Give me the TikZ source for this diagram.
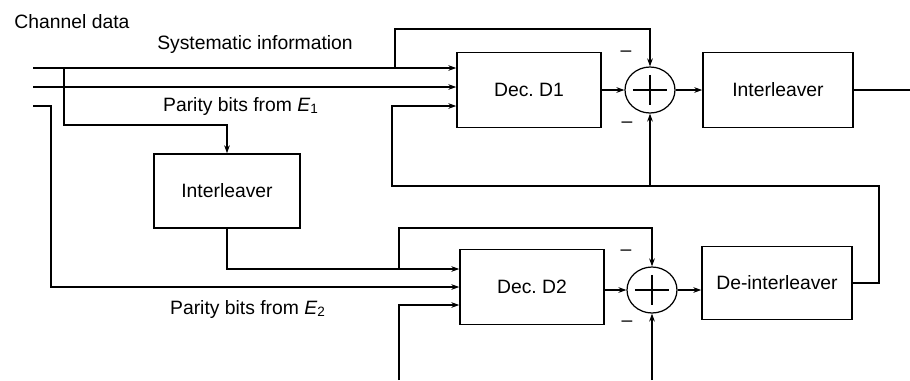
\documentclass[tikz,border=0pt]{standalone}
\usepackage{fontspec}
\setmainfont{Liberation Sans}
\usetikzlibrary{shapes.geometric,arrows.meta}
\begin{document}
\begin{tikzpicture}[x=0.02cm,y=-0.02cm,>={Stealth[length=4.5pt,width=3.2pt]},line width=0.7pt,
  font=\fontsize{11}{13}\selectfont,
  blk/.style={draw,line width=0.9pt,minimum width=2.88cm,minimum height=1.5cm},
  sum/.style={draw,ellipse,minimum width=1cm,minimum height=0.92cm,inner sep=0pt,
    path picture={\draw ([xshift=4.5pt]path picture bounding box.west) -- ([xshift=-4.5pt]path picture bounding box.east)
      ([yshift=-4.5pt]path picture bounding box.north) -- ([yshift=4.5pt]path picture bounding box.south);}}]
  \useasboundingbox (0,0) rectangle (910,380);
  % blocks
  \node[blk] at (529,90) (D1) {Dec.\ D1};
  \node[blk,minimum width=3cm] at (778,90) (I1) {Interleaver};
  \node[blk,minimum width=2.92cm,minimum height=1.48cm] at (227,191) (I0) {Interleaver};
  \node[blk] at (532,287) (D2) {Dec.\ D2};
  \node[blk,minimum width=3cm,minimum height=1.46cm] at (777,283) (DI) {De-interleaver};
  \node[sum] at (650,90) (A1) {};
  \node[sum] at (652,290) (A2) {};
  % labels
  \node[anchor=west] at (8,22) (ch) {Channel data};
  \node at (255,44) (sys) {Systematic information};
  \node at (241,106) (p1) {Parity bits from \textit{E}\textsubscript{1}};
  \node at (248,309) (p2) {Parity bits from \textit{E}\textsubscript{2}};
  \foreach \x/\y [count=\i] in {626/54,627/125,626/253,627/324}
    \node at (\x,\y) (m\i) {\textendash};
  % points
  \coordinate (in1) at (33,68);
  \coordinate (in2) at (33,87);
  \coordinate (in3) at (33,106);
  \coordinate (br1) at (64,68);
  \coordinate (br2) at (395,68);
  \coordinate (k3) at (51,287);
  \coordinate (br3) at (399,269);
  \coordinate (fb1) at (392,106);
  \coordinate (j1) at (650,186);
  \coordinate (out) at (910,90);
  \coordinate (bot1) at (399,380);
  \coordinate (bot2) at (652,380);
  % upper decoder
  \draw[->] (in1) -- (D1.west |- in1);
  \draw[->] (in2) -- (D1.west |- in2);
  \draw[->] (br1) -- (64,125) -| (I0.north);
  \draw[->] (br2) -- (395,29) -| (A1.north);
  \draw[->] (D1) -- (A1);
  \draw[->] (A1) -- (I1);
  \draw (I1) -- (out);
  \draw[->] (DI.east) -| (879,186) -| (fb1) -- (D1.west |- fb1);
  \draw[->] (j1) -- (A1.south);
  % lower decoder
  \draw[->] (in3) -| (k3) -- (D2.west |- k3);
  \draw[->] (I0.south) |- (br3) -- (D2.west |- br3);
  \draw[->] (br3) -- (399,228) -| (A2.north);
  \draw[->] (bot1) |- (D2.west |- 0,305);
  \draw[->] (D2.east |- A2) -- (A2);
  \draw[->] (A2) -- (DI.west |- A2);
  \draw[->] (bot2) -- (A2.south);
\end{tikzpicture}
\end{document}
